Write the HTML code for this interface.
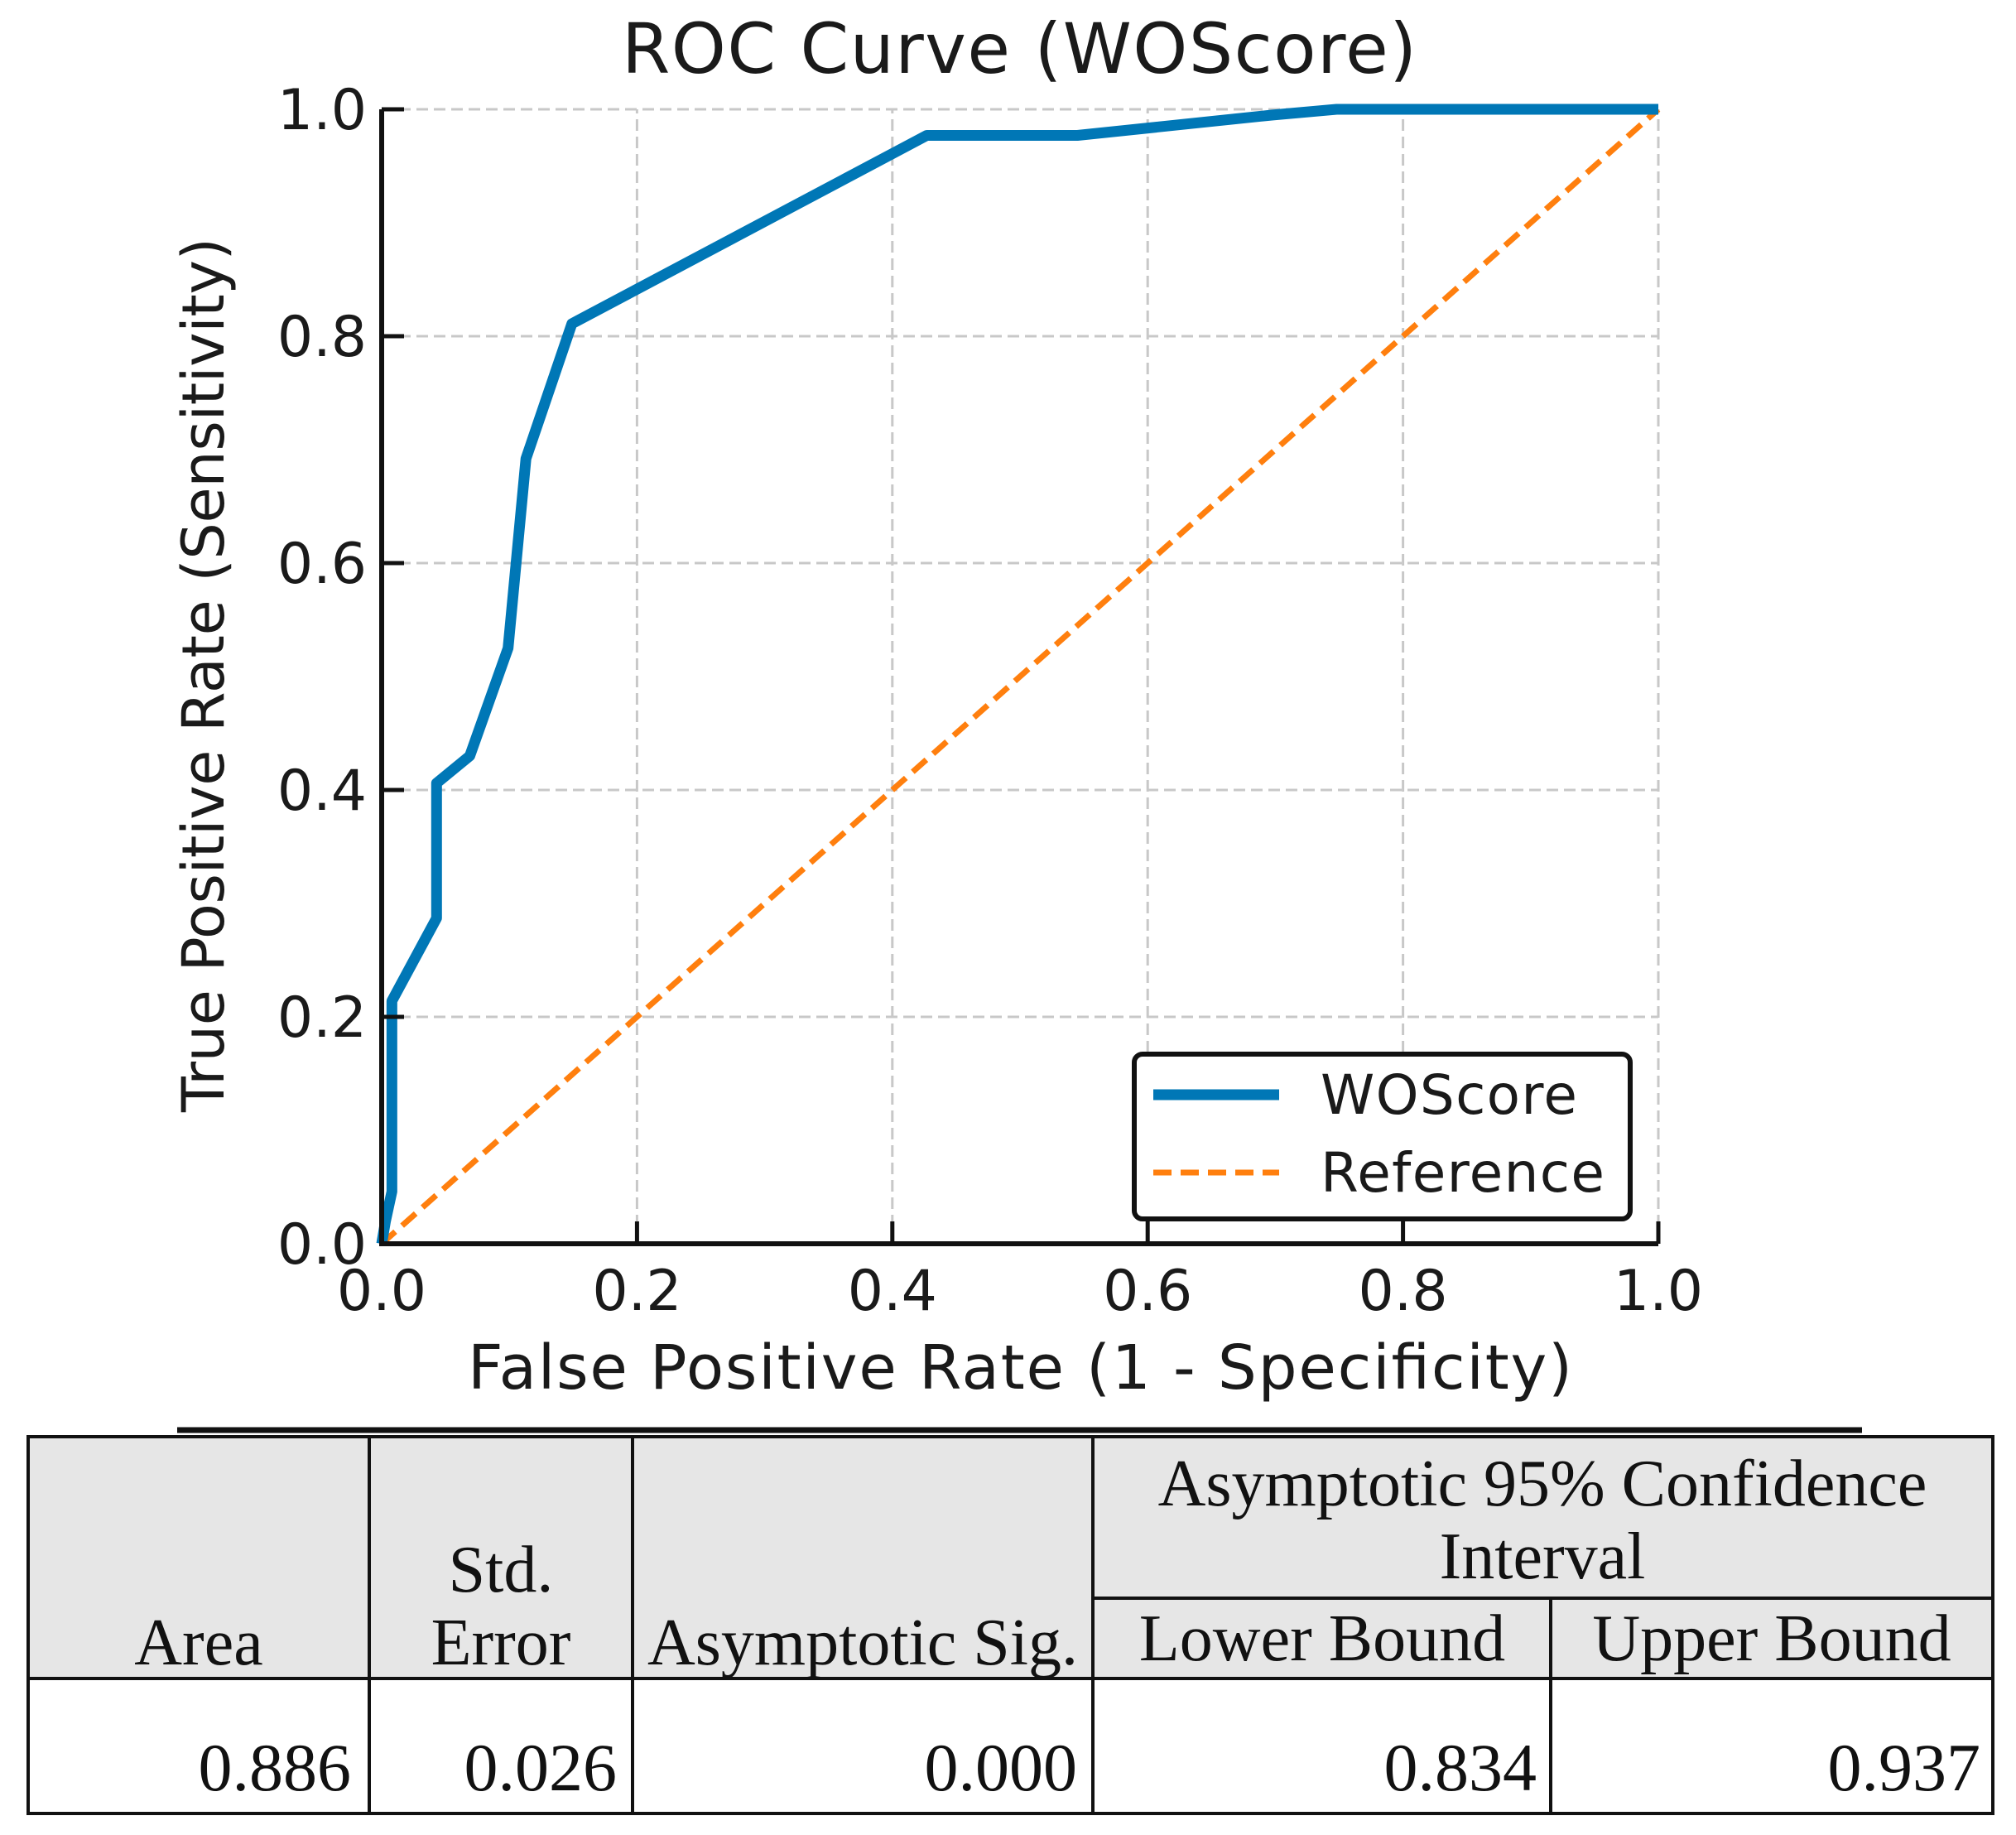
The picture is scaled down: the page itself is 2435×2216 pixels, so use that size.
<!DOCTYPE html>
<html><head><meta charset="utf-8"><style>
html,body{margin:0;padding:0;background:#fff;}
svg{display:block;}
.sans{font-family:"DejaVu Sans","Liberation Sans",sans-serif;fill:#1a1a1a;}
.serif{font-family:"Liberation Serif","DejaVu Serif",serif;fill:#111;}
</style></head><body>
<svg id="chart" width="2435" height="2216" viewBox="0 0 2435 2216" xmlns="http://www.w3.org/2000/svg">
<rect width="2435" height="2216" fill="#fff"/>
<text class="sans" x="1231" y="88" font-size="84" text-anchor="middle" textLength="960">ROC Curve (WOScore)</text>
<g id="grid"></g>
<g id="ref"></g>
<g id="curve"></g>
<g id="axes"></g>
<text class="sans" x="1232" y="1677" font-size="74" text-anchor="middle" textLength="1334">False Positive Rate (1 - Specificity)</text>
<text class="sans" x="0" y="0" font-size="70" text-anchor="middle" textLength="1056" transform="translate(270,815) rotate(-90)">True Positive Rate (Sensitivity)</text>
<g>
<rect x="1370" y="1273" width="599" height="199" rx="10" fill="#fff" stroke="#111" stroke-width="6"/>
<line x1="1393" y1="1322" x2="1545" y2="1322" stroke="#0077b6" stroke-width="13"/>
<text class="sans" x="1595" y="1345" font-size="66" textLength="310">WOScore</text>
<line x1="1393" y1="1416" x2="1545" y2="1416" stroke="#ff7f0e" stroke-width="7" stroke-dasharray="22,11"/>
<text class="sans" x="1595" y="1439" font-size="66" textLength="343">Reference</text>
</g>
<g>
<line x1="214" y1="1727" x2="2249" y2="1727" stroke="#111" stroke-width="7"/>
<rect x="34" y="1735" width="2373" height="292" fill="#e6e6e6"/>
<rect x="34" y="1735" width="2373" height="455" fill="none" stroke="#111" stroke-width="4"/>
<line x1="34" y1="2027" x2="2407" y2="2027" stroke="#111" stroke-width="4"/>
<line x1="1320" y1="1930" x2="2407" y2="1930" stroke="#111" stroke-width="4"/>
<line x1="446" y1="1735" x2="446" y2="2190" stroke="#111" stroke-width="4"/>
<line x1="764" y1="1735" x2="764" y2="2190" stroke="#111" stroke-width="4"/>
<line x1="1320" y1="1735" x2="1320" y2="2190" stroke="#111" stroke-width="4"/>
<line x1="1873" y1="1930" x2="1873" y2="2190" stroke="#111" stroke-width="4"/>
<g class="serif" font-size="80" text-anchor="middle">
<text x="240" y="2010">Area</text>
<text x="605" y="1922">Std.</text>
<text x="605" y="2010">Error</text>
<text x="1042" y="2010">Asymptotic Sig.</text>
<text x="1863" y="1818">Asymptotic 95% Confidence</text>
<text x="1863" y="1906">Interval</text>
<text x="1597" y="2005">Lower Bound</text>
<text x="2140" y="2005">Upper Bound</text>
</g>
<g class="serif" font-size="82" text-anchor="end">
<text x="424" y="2162">0.886</text>
<text x="745" y="2162">0.026</text>
<text x="1301" y="2162">0.000</text>
<text x="1856" y="2162">0.834</text>
<text x="2392" y="2162">0.937</text>
</g>
</g>
</svg>
<script>
const fprValues=[0,0.003,0.008,0.008,0.043,0.043,0.069,0.099,0.113,0.149,0.427,0.545,0.698,0.748,1.0];
const tprValues=[0,0.02,0.046,0.214,0.287,0.406,0.43,0.525,0.692,0.811,0.977,0.977,0.995,1.0,1.0];
const refX=[0,1];
const refY=[0,1];
const tickValues=[0,0.2,0.4,0.6,0.8,1.0];
const tickLabels=["0.0","0.2","0.4","0.6","0.8","1.0"];

const NS="http://www.w3.org/2000/svg";
const X0=461,X1=2003,Y0=1502,Y1=132;
function sx(v){return X0+v*(X1-X0);}
function sy(v){return Y0-v*(Y0-Y1);}
function mk(tag,attrs,parent){const e=document.createElementNS(NS,tag);for(const k in attrs)e.setAttribute(k,attrs[k]);parent.appendChild(e);return e;}

const grid=document.getElementById('grid');
tickValues.forEach((t,i)=>{
  const gv=mk('line',{x1:sx(t),x2:sx(t),y1:Y0,y2:Y1,stroke:'#c8c8c8','stroke-width':3,'stroke-dasharray':'14,7'},grid);
  
  
  const gh=mk('line',{x1:X0,x2:X1,y1:sy(t),y2:sy(t),stroke:'#c8c8c8','stroke-width':3,'stroke-dasharray':'14,7'},grid);
  
  
});

const ref=document.getElementById('ref');
const rl=mk('polyline',{points:refX.map((x,i)=>sx(x)+','+sy(refY[i])).join(' '),fill:'none',stroke:'#ff7f0e','stroke-width':7,'stroke-dasharray':'22,11'},ref);



const curve=document.getElementById('curve');
const cl=mk('polyline',{points:fprValues.map((x,i)=>sx(x)+','+sy(tprValues[i])).join(' '),fill:'none',stroke:'#0077b6','stroke-width':13,'stroke-linejoin':'round'},curve);



const axes=document.getElementById('axes');
const ls=mk('line',{x1:X0,x2:X0,y1:Y0+3,y2:Y1,stroke:'#111','stroke-width':6},axes);


const bs=mk('line',{x1:X0-3,x2:X1,y1:Y0,y2:Y0,stroke:'#111','stroke-width':6},axes);


tickValues.forEach((t,i)=>{
  const xt=mk('line',{x1:sx(t),x2:sx(t),y1:Y0,y2:Y0-27,stroke:'#111','stroke-width':5},axes);
  
  
  const yt=mk('line',{x1:X0,x2:X0+27,y1:sy(t),y2:sy(t),stroke:'#111','stroke-width':5},axes);
  
  
  const xl=mk('text',{x:sx(t),y:1582,'font-size':68,'text-anchor':'middle',class:'sans'},axes);
  xl.textContent=tickLabels[i];
  
  
  const yl=mk('text',{x:443,y:sy(t)+24,'font-size':68,'text-anchor':'end',class:'sans'},axes);
  yl.textContent=tickLabels[i];
  
  
});
</script>
</body></html>
